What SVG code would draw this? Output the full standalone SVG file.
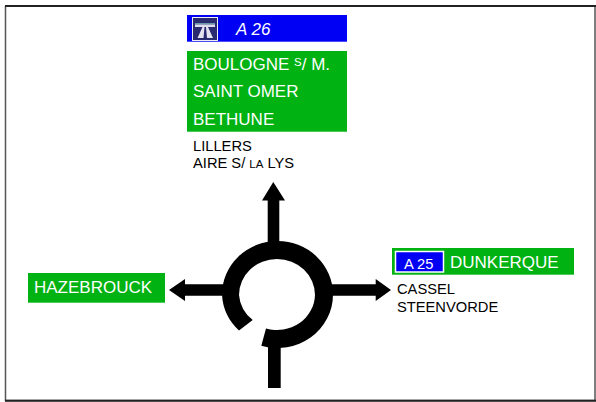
<svg xmlns="http://www.w3.org/2000/svg" width="596" height="402" viewBox="0 0 596 402">
<style>
text{font-family:"Liberation Sans",Arial,sans-serif}
.g{fill:#00b212}
.b{fill:#0000f5}
.w{fill:#fff;font-size:17px}
.k{fill:#000;font-size:14.7px}
</style>
<rect width="596" height="402" fill="#fff"/>
<path d="M5.5 6V400.5H595V6" fill="none" stroke="#555" stroke-width="1.5"/>
<path d="M5 6H596M5 400.8H596" fill="none" stroke="#222" stroke-width="2"/>
<g id="connectors">
<path d="M239 330.500A55.500 53.500 0 0 1 222 294.500A55.500 53.500 0 0 1 277.500 241A55.500 53.500 0 0 1 333 294.500A55.500 53.500 0 0 1 261.300 345.700L266 328.500A38 36 0 0 0 315 295A38 36 0 0 0 277 259A38 36 0 0 0 239 295A38 36 0 0 0 252.700 320Z"/>
<path d="M267.700 243V200.500H262L273.300 182L285 200.500H279.300V243Z"/>
<path d="M225 284.300H185V279L169 290L185 301V295.700H225Z"/>
<path d="M331 284.300H375.700V279L391 290L375.700 301V295.700H331Z"/>
<path d="M268 344H280.700V388H268Z"/>
</g>
<g id="a26">
<rect class="b" x="187" y="15" width="160" height="26.7"/>
<rect x="192.500" y="17.500" width="25" height="23" fill="#2a2a70" stroke="#eee"/>
<path d="M195 23H215V24.500H195Z" fill="#6a9aa8"/>
<path d="M195 24.500H215V27H195Z" fill="#dde"/>
<path d="M202.500 27L197.500 38H203.500L204.500 27ZM206 27L207 38H213L208 27Z" fill="#e4e4f0"/>
<text x="236" y="35" fill="#fff" font-size="17" font-style="italic">A 26</text>
</g>
<g id="destinations">
<rect class="g" x="187" y="51" width="160" height="80.7"/>
<text class="w" x="193" y="70">BOULOGNE <tspan font-size="11.500" dy="-4">S</tspan><tspan dy="4">/ M.</tspan></text>
<text class="w" x="193" y="97">SAINT OMER</text>
<text class="w" x="193" y="125">BETHUNE</text>
</g>
<g id="north-labels">
<text class="k" x="193" y="151">LILLERS</text>
<text class="k" x="193" y="168">AIRE S/ <tspan font-size="11.500">LA</tspan> LYS</text>
</g>
<g id="dunkerque">
<rect class="g" x="392" y="248" width="182" height="26.7"/>
<rect class="b" x="395.500" y="251.500" width="48" height="20.500" stroke="#fff" stroke-width="1.500"/>
<text x="404" y="269" fill="#fff" font-size="14.700">A 25</text>
<text class="w" x="450" y="268">DUNKERQUE</text>
</g>
<g id="east-labels">
<text class="k" x="397" y="294">CASSEL</text>
<text class="k" x="397" y="312">STEENVORDE</text>
</g>
<g id="hazebrouck">
<rect class="g" x="28" y="273" width="137" height="29.7"/>
<text class="w" x="34" y="293">HAZEBROUCK</text>
</g>
</svg>
